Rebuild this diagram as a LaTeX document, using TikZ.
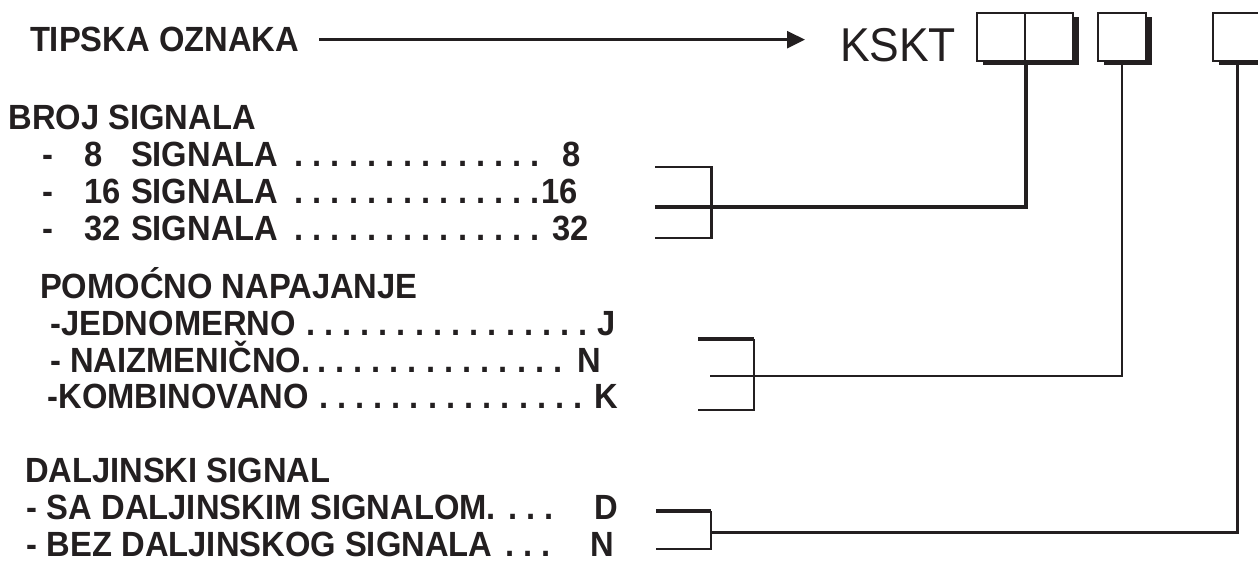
\documentclass[tikz,border=0pt]{standalone}
\usepackage{fontspec}
\setmainfont{Liberation Sans}[FakeStretch=0.935]
\usetikzlibrary{arrows.meta,shadows}
\definecolor{ink}{RGB}{35,31,32}
\begin{document}
\begin{tikzpicture}[x=1pt,y=-1pt,
  lbl/.style={anchor=base west,inner sep=0pt,outer sep=0pt,text=ink,font=\fontsize{35}{42}\selectfont\bfseries\frenchspacing},
  val/.style={anchor=base east,inner sep=0pt,outer sep=0pt,text=ink,font=\fontsize{35}{42}\selectfont\bfseries\frenchspacing},
  cell/.style={draw=ink,line width=2pt,fill=white,minimum width=48pt,minimum height=48pt,inner sep=0pt,
    drop shadow={shadow xshift=6pt,shadow yshift=-4pt,fill=ink,opacity=1}},
  wire/.style={draw=ink,line width=2pt},
]
\useasboundingbox (0,0) rectangle (1258,563);
\clip (0,0) rectangle (1258,563);
\fill[white] (0,0) rectangle (1258,563);

% title row
\node[lbl] (tipska) at (30,51.7) {TIPSKA OZNAKA};
\node[anchor=base west,inner sep=0pt,outer sep=0pt,text=ink,font=\fontsize{47.5}{55}\selectfont] (kskt) at (840,61) {KSKT};
\draw[ink,line width=2.5pt,-{Triangle[length=18pt,width=17pt]},shorten <=20pt,shorten >=35pt]
  (tipska.east) -- (tipska.east -| kskt.west);

% boxes
\node[cell] (c1a) at (1001,37) {};
\node[cell] (c1b) at (1049,37) {};
\node[cell] (c2) at (1122,37) {};
\node[cell] (c3) at (1237,37) {};

% BROJ SIGNALA
\node[lbl] (broj) at (8.5,129) {BROJ SIGNALA};
\node[lbl] (r1d) at (42,166) {-};
\node[lbl] (r1n) at (84,166) {8};
\node[lbl] (r1s) at (131,166) {SIGNALA};
\node[lbl] (r1p) at (294.5,166) {. . . . . . . . . . . . . .};
\node[val] (r1v) at (581,166) {8};
\node[lbl] (r2d) at (42,203) {-};
\node[lbl] (r2n) at (84,203) {16};
\node[lbl] (r2s) at (131,203) {SIGNALA};
\node[lbl] (r2p) at (294.5,203) {. . . . . . . . . . . . . .};
\node[val] (r2v) at (578,203) {16};
\node[lbl] (r3d) at (42,240) {-};
\node[lbl] (r3n) at (84,240) {32};
\node[lbl] (r3s) at (131,240) {SIGNALA};
\node[lbl] (r3p) at (294.5,240) {. . . . . . . . . . . . . .};
\node[val] (r3v) at (589,240) {32};

% POMOCNO NAPAJANJE
\node[lbl] (pom) at (40,298) {POMOĆNO NAPAJANJE};
\node[lbl] (p1) at (50.4,335) {-JEDNOMERNO};
\node[lbl] (p1p) at (306,335) {. . . . . . . . . . . . . . . .};
\node[val] (p1v) at (616,335) {J};
\node[lbl] (p2) at (50.4,372) {- NAIZMENIČNO.};
\node[lbl] (p2p) at (317,372) {. . . . . . . . . . . . . .};
\node[val] (p2v) at (601,372) {N};
\node[lbl] (p3) at (47.7,408) {-KOMBINOVANO};
\node[lbl] (p3p) at (319,408) {. . . . . . . . . . . . . . .};
\node[val] (p3v) at (618,408) {K};

% DALJINSKI SIGNAL
\node[lbl] (dal) at (25,482) {DALJINSKI SIGNAL};
\node[lbl] (d1) at (27,519) {- SA DALJINSKIM SIGNALOM.};
\node[lbl] (d1p) at (508.5,519) {. . .};
\node[val] (d1v) at (618.5,519) {D};
\node[lbl] (d2) at (27,556) {- BEZ DALJINSKOG SIGNALA};
\node[lbl] (d2p) at (505.5,556) {. . .};
\node[val] (d2v) at (614,556) {N};

% bracket 1
\coordinate (b1ta) at (655,167);
\coordinate (b1tb) at (711.7,167);
\coordinate (b1bb) at (711.7,238);
\coordinate (b1ba) at (655,238);
\coordinate (b1l) at (655,207);
\draw[wire,line width=2.5pt] (b1ta) -- (b1tb) -- (b1bb) -- (b1ba);
\draw[wire,line width=3.5pt] (c1a.south east) |- (b1l);

% bracket 2
\coordinate (b2ta) at (698,339);
\coordinate (b2tb) at (754,339);
\coordinate (b2bb) at (754,410);
\coordinate (b2ba) at (698,410);
\coordinate (b2l) at (710,375.7);
\draw[wire,line width=4pt] (b2ta) -- (b2tb);
\draw[wire] (b2tb) -- (b2bb) -- (b2ba);
\draw[wire] (c2.south) |- (b2l);

% bracket 3
\coordinate (b3ta) at (656,511);
\coordinate (b3tb) at (711,511);
\coordinate (b3bb) at (711,549);
\coordinate (b3ba) at (656,549);
\coordinate (b3r) at (711,532);
\draw[wire,line width=4pt] (b3ta) -- (b3tb);
\draw[wire] (b3tb) -- (b3bb) -- (b3ba);
\draw[wire,line width=3pt] (c3.south) |- (b3r);
\end{tikzpicture}
\end{document}
